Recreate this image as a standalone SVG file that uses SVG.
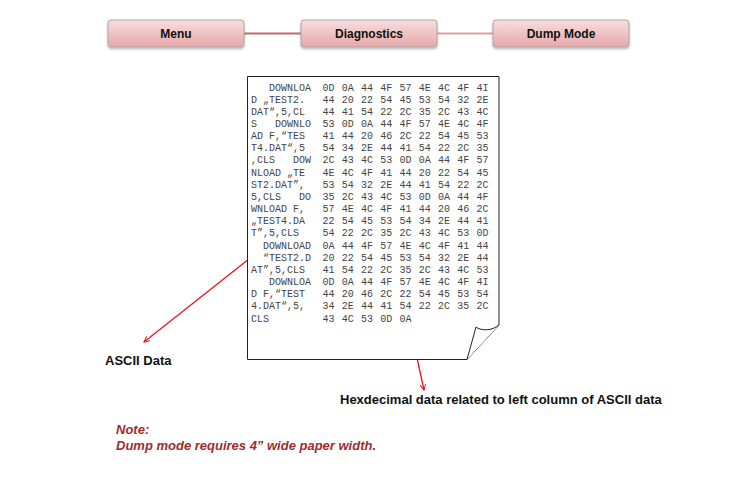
<svg xmlns="http://www.w3.org/2000/svg" width="732" height="484" viewBox="0 0 732 484">
<defs>
<linearGradient id="btn" x1="0" y1="0" x2="0" y2="1">
<stop offset="0" stop-color="#f7dede"/>
<stop offset="1" stop-color="#e8a7a8"/>
</linearGradient>
<filter id="sh" x="-10%" y="-20%" width="120%" height="150%">
<feDropShadow dx="0" dy="1.5" stdDeviation="1" flood-color="#000" flood-opacity="0.3"/>
</filter>
<marker id="ah" viewBox="0 0 10 10" refX="9" refY="5" markerWidth="7" markerHeight="7" orient="auto" markerUnits="userSpaceOnUse">
<path d="M1,1 L9,5 L1,9" fill="none" stroke="#e8141a" stroke-width="1.4"/>
</marker>
</defs>
<style>
.btn{fill:url(#btn);stroke:#a8a8a8;stroke-width:1;filter:url(#sh)}
.bt{font-family:"Liberation Sans",Arial,sans-serif;font-weight:bold;font-size:12px;fill:#111;text-anchor:middle}
.mono{font-family:"Liberation Mono","Courier New",monospace;font-size:10px;fill:#444}
.hex{word-spacing:1.25px}
.lbl{font-family:"Liberation Sans",Arial,sans-serif;font-weight:bold;font-size:13px;fill:#111}
.note{font-family:"Liberation Sans",Arial,sans-serif;font-weight:bold;font-style:italic;font-size:13px;fill:#9b2d30}
.red{stroke:#e8141a;stroke-width:1.3;fill:none}
</style>
<rect width="732" height="484" fill="#fff"/>
<g id="connectors">
<line x1="244" y1="33.5" x2="301" y2="33.5" stroke="#c9686a" stroke-width="2"/>
<line x1="437" y1="33.5" x2="493" y2="33.5" stroke="#dfa0a2" stroke-width="2"/>
<line class="red" x1="254" y1="255" x2="144" y2="342" marker-end="url(#ah)"/>
<line class="red" x1="409" y1="321" x2="424" y2="390" marker-end="url(#ah)"/>
</g>
<g id="menu"><rect class="btn" x="108" y="20" width="136" height="27" rx="3"/><text class="bt" x="176" y="38">Menu</text></g>
<g id="diagnostics"><rect class="btn" x="301" y="20" width="136" height="27" rx="3"/><text class="bt" x="369" y="38">Diagnostics</text></g>
<g id="dumpmode"><rect class="btn" x="493" y="20" width="136" height="27" rx="3"/><text class="bt" x="561" y="38">Dump Mode</text></g>
<g id="paper">
<path d="M247.5,76.5 H499 V325 L467,359.5 H247.5 Z" fill="#fff" stroke="#222" stroke-width="1"/>
<path d="M467,359.5 L476,327 C481,331 492,331 499,325" fill="#fff" stroke="#222" stroke-width="1"/>
<text class="mono" xml:space="preserve"><tspan x="251" y="90.5">   DOWNLOA</tspan><tspan x="251" dy="12.16">D „TEST2.</tspan><tspan x="251" dy="12.16">DAT“,5,CL</tspan><tspan x="251" dy="12.16">S   DOWNLO</tspan><tspan x="251" dy="12.16">AD F,“TES</tspan><tspan x="251" dy="12.16">T4.DAT“,5</tspan><tspan x="251" dy="12.16">,CLS   DOW</tspan><tspan x="251" dy="12.16">NLOAD „TE</tspan><tspan x="251" dy="12.16">ST2.DAT”,</tspan><tspan x="251" dy="12.16">5,CLS   DO</tspan><tspan x="251" dy="12.16">WNLOAD F,</tspan><tspan x="251" dy="12.16">„TEST4.DA</tspan><tspan x="251" dy="12.16">T”,5,CLS</tspan><tspan x="251" dy="12.16">  DOWNLOAD</tspan><tspan x="251" dy="12.16">  “TEST2.D</tspan><tspan x="251" dy="12.16">AT”,5,CLS</tspan><tspan x="251" dy="12.16">   DOWNLOA</tspan><tspan x="251" dy="12.16">D F,“TEST</tspan><tspan x="251" dy="12.16">4.DAT“,5,</tspan><tspan x="251" dy="12.16">CLS</tspan></text>
<text class="mono hex"><tspan x="322.5" y="90.5">0D 0A 44 4F 57 4E 4C 4F 4I</tspan><tspan x="322.5" dy="12.16">44 20 22 54 45 53 54 32 2E</tspan><tspan x="322.5" dy="12.16">44 41 54 22 2C 35 2C 43 4C</tspan><tspan x="322.5" dy="12.16">53 0D 0A 44 4F 57 4E 4C 4F</tspan><tspan x="322.5" dy="12.16">41 44 20 46 2C 22 54 45 53</tspan><tspan x="322.5" dy="12.16">54 34 2E 44 41 54 22 2C 35</tspan><tspan x="322.5" dy="12.16">2C 43 4C 53 0D 0A 44 4F 57</tspan><tspan x="322.5" dy="12.16">4E 4C 4F 41 44 20 22 54 45</tspan><tspan x="322.5" dy="12.16">53 54 32 2E 44 41 54 22 2C</tspan><tspan x="322.5" dy="12.16">35 2C 43 4C 53 0D 0A 44 4F</tspan><tspan x="322.5" dy="12.16">57 4E 4C 4F 41 44 20 46 2C</tspan><tspan x="322.5" dy="12.16">22 54 45 53 54 34 2E 44 41</tspan><tspan x="322.5" dy="12.16">54 22 2C 35 2C 43 4C 53 0D</tspan><tspan x="322.5" dy="12.16">0A 44 4F 57 4E 4C 4F 41 44</tspan><tspan x="322.5" dy="12.16">20 22 54 45 53 54 32 2E 44</tspan><tspan x="322.5" dy="12.16">41 54 22 2C 35 2C 43 4C 53</tspan><tspan x="322.5" dy="12.16">0D 0A 44 4F 57 4E 4C 4F 4I</tspan><tspan x="322.5" dy="12.16">44 20 46 2C 22 54 45 53 54</tspan><tspan x="322.5" dy="12.16">34 2E 44 41 54 22 2C 35 2C</tspan><tspan x="322.5" dy="12.16">43 4C 53 0D 0A</tspan></text>
</g>
<text class="lbl" x="105" y="365">ASCII Data</text>
<text class="lbl" x="340" y="404">Hexdecimal data related to left column of ASCII data</text>
<text class="note" x="116" y="434">Note:</text>
<text class="note" x="116" y="450">Dump mode requires 4” wide paper width.</text>
</svg>
